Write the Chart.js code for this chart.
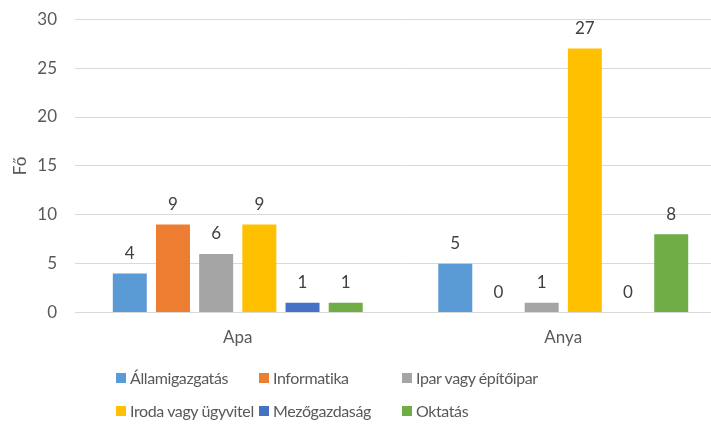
<!DOCTYPE html>
<html>
<head>
<meta charset="utf-8">
<script src="https://cdn.jsdelivr.net/npm/chart.js@4"></script>
<style>
    body { margin: 0; background: #fff; overflow: hidden; width: 711px; height: 424px; }
    #wrap { position: relative; width: 726px; height: 364px; margin-top: -9px; }
    #legend { position: absolute; left: 0; top: 0; width: 711px; height: 424px; pointer-events: none;
        font-family: Lato, "Open Sans", sans-serif; font-size: 16px; color: #595959; letter-spacing: -0.4px; }
    .item { position: absolute; display: flex; align-items: center; white-space: nowrap; }
    .box { width: 10px; height: 10px; margin-right: 4px; }
</style>
</head>
<body>
<div id="wrap"><canvas id="chart"></canvas></div>
<div id="legend"></div>
<script>
// data
const categories = ['Apa', 'Anya'];
const seriesNames = ['Államigazgatás', 'Informatika', 'Ipar vagy építőipar', 'Iroda vagy ügyvitel', 'Mezőgazdaság', 'Oktatás'];
const apaValues = [4, 9, 6, 9, 1, 1];
const anyaValues = [5, 0, 1, 27, 0, 8];
const yTicks = [0, 5, 10, 15, 20, 25, 30];
const colors = ['#5B9BD5', '#ED7D31', '#A5A5A5', '#FFC000', '#4472C4', '#70AD47'];

const datasets = seriesNames.map(function(name, i) {
    return {
        label: name,
        data: [apaValues[i], anyaValues[i]],
        backgroundColor: colors[i],
        borderWidth: 0,
        categoryPercentage: 0.796,
        barPercentage: 0.787
    };
});

// value labels above bars
const valueLabels = {
    id: 'valueLabels',
    afterDatasetsDraw(chart) {
        const ctx = chart.ctx;
        ctx.save();
        ctx.font = '17px Lato, "Open Sans", sans-serif';
        ctx.fillStyle = '#404040';
        ctx.textAlign = 'center';
        ctx.textBaseline = 'middle';
        chart.data.datasets.forEach(function(ds, i) {
            chart.getDatasetMeta(i).data.forEach(function(bar, j) {
                ctx.fillText(ds.data[j], bar.x, bar.y - 20);
            });
        });
        ctx.restore();
    }
};

const ctx = document.getElementById('chart').getContext('2d');
const chart = new Chart(ctx, {
    type: 'bar',
    data: { labels: categories, datasets: datasets },
    plugins: [valueLabels],
    options: {
        responsive: true,
        maintainAspectRatio: false,
        animation: false,
        layout: { padding: { top: 4, right: 0, left: 0, bottom: 0 } },
        plugins: {
            legend: { display: false },
            tooltip: { enabled: false }
        },
        scales: {
            x: {
                grid: { display: false },
                border: { color: '#d9d9d9', width: 1 },
                ticks: { color: '#595959', font: { size: 17, family: 'Lato' }, padding: 7 }
            },
            y: {
                min: 0,
                max: 30,
                afterBuildTicks: function(axis) {
                    axis.ticks = yTicks.map(function(v) { return { value: v }; });
                },
                afterFit: function(axis) { axis.width = 75; },
                grid: { color: '#d9d9d9', lineWidth: 1, drawTicks: false },
                border: { display: false },
                ticks: { color: '#595959', font: { size: 17, family: 'Lato' }, padding: 18 },
                title: { display: true, text: 'Fő', color: '#595959', font: { size: 17, family: 'Lato' }, padding: { top: 10, bottom: 0 } }
            }
        }
    }
});

// legend, 3 columns x 2 rows
const legend = document.getElementById('legend');
const colX = [116, 259, 402];
const rowY = [379, 412];
seriesNames.forEach(function(name, i) {
    const el = document.createElement('div');
    el.className = 'item';
    el.style.left = colX[i % 3] + 'px';
    el.style.top = (rowY[Math.floor(i / 3)] - 11) + 'px';
    el.innerHTML = '<span class="box" style="background:' + colors[i] + '"></span><span>' + name + '</span>';
    legend.appendChild(el);
});
</script>
</body>
</html>
